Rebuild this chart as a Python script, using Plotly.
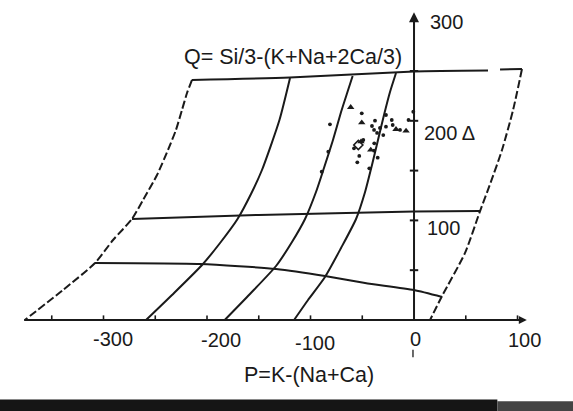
import plotly.graph_objects as go

# ---------------- data (P, Q coordinates) ----------------
# frame / grid lines of the P-Q diagram
top_P = [-214.5, -120.0, 0.0, 71.5]
top_Q = [241.0, 243.5, 249.5, 250.5]
top_end_P = [83.1, 104.3]
top_end_Q = [251.5, 252.0]

left_P = [-214.5, -219.3, -224.2, -230.0, -237.7, -248.3, -261.8, -272.5, -290.8, -308.2, -339.1, -376.0]
left_Q = [241.0, 227.9, 210.8, 190.8, 170.7, 145.6, 120.5, 101.4, 80.3, 57.2, 30.1, 0.0]

right_P = [104.3, 95.7, 85.0, 73.9, 63.8, 49.3, 27.1, 15.5]
right_Q = [252.0, 210.8, 170.7, 137.6, 109.4, 67.3, 24.1, 0.0]

mid_P = [-272.5, -150.0, 0.0, 63.8]
mid_Q = [101.4, 105.5, 108.8, 109.4]

low_P = [-308.2, -206.8, -133.3, -86.0, -47.3, 0.0, 27.1]
low_Q = [57.2, 56.2, 51.2, 44.2, 37.1, 30.1, 23.1]

c1_P = [-258.9, -233.8, -204.8, -187.4, -170.5, -157.5, -146.9, -130.0, -119.8]
c1_Q = [0.0, 25.1, 55.2, 77.3, 101.4, 126.5, 150.6, 200.8, 243.0]

c2_P = [-182.9, -158.5, -133.3, -117.9, -105.3, -94.7, -87.0, -78.3, -70.5, -64.3, -59.3]
c2_Q = [0.0, 26.1, 54.2, 78.3, 101.4, 128.5, 152.6, 180.7, 208.8, 228.9, 245.0]

c3_P = [-115.9, -102.4, -86.0, -70.5, -56.0, -47.3, -40.6, -34.8, -29.0, -23.2, -17.4]
c3_Q = [0.0, 20.1, 43.2, 72.3, 101.4, 128.5, 155.6, 180.7, 205.8, 228.9, 248.0]

# samples
dots_P = [-81.2, -50.5, -37.7, -27.1, -40.6, -32.9, -35.7, -38.6, -21.5, -20.6, -13.5, -5.3,
          -0.7, -27.1, -29.7, -38.4, -58.0, -49.0, -82.8, -38.6, -52.9, -54.8, -43.2, -35.1, -89.2]
dots_Q = [196.5, 207.5, 200.1, 205.8, 194.8, 192.8, 187.8, 190.8, 200.8, 195.8, 190.8, 200.8,
          209.1, 194.1, 185.7, 177.4, 172.4, 180.7, 169.0, 170.0, 164.7, 158.3, 152.3, 163.0, 148.9]
tri_P = [-61.2, -50.5, -17.4, -7.7, -51.2, -41.8]
tri_Q = [213.6, 198.1, 191.5, 189.8, 179.0, 170.7]
open_P = [-53.8]
open_Q = [175.7]

# axes
x_ticks = [-350, -300, -250, -200, -150, -100, -50, 50, 100]
y_ticks = [50, 100, 150, 200, 250]
x_lab_text = ["-300", "-200", "-100", "0", "100"]
x_lab_P = [-290.8, -186.9, -95.8, 1.0, 106.3]
x_lab_Q = [-18.6, -20.1, -23.1, -18.6, -20.1]
y_lab_text = ["300", "200 Δ", "100"]
y_lab_P = [13.5, 7.7, 10.6]
y_lab_Q = [299.2, 187.8, 92.4]

INK = "#1a1a1a"
FONT = "Liberation Sans, Arial, Helvetica, sans-serif"
LW = 2.0

fig = go.Figure()

def line(P, Q, dash="solid", width=LW):
    fig.add_trace(go.Scatter(x=P, y=Q, mode="lines",
                             line=dict(color=INK, width=width, dash=dash, shape="spline", smoothing=0.6),
                             hoverinfo="skip"))

line(top_P, top_Q)
line(top_end_P, top_end_Q)
line(left_P, left_Q, dash="8px,3px")
line(right_P, right_Q, dash="8px,3px")
line(mid_P, mid_Q)
line(low_P, low_Q)
line(c1_P, c1_Q)
line(c2_P, c2_Q)
line(c3_P, c3_Q)

# axes lines
fig.add_trace(go.Scatter(x=[-376.7, 106], y=[0, 0], mode="lines", line=dict(color=INK, width=LW), hoverinfo="skip"))
fig.add_trace(go.Scatter(x=[0, 0], y=[0, 306], mode="lines", line=dict(color=INK, width=LW), hoverinfo="skip"))
fig.add_trace(go.Scatter(x=[-1, -1], y=[-30, -37.5], mode="lines", line=dict(color=INK, width=1.3), hoverinfo="skip"))
fig.add_annotation(x=0, y=309, ax=0, ay=290, xref="x", yref="y", axref="x", ayref="y", text="",
                   showarrow=True, arrowhead=2, arrowsize=1, arrowwidth=LW, arrowcolor=INK)
fig.add_annotation(x=109, y=0, ax=95, ay=0, xref="x", yref="y", axref="x", ayref="y", text="",
                   showarrow=True, arrowhead=2, arrowsize=0.8, arrowwidth=LW, arrowcolor=INK)

# ticks
fig.add_trace(go.Scatter(x=x_ticks, y=[1.8] * len(x_ticks), mode="markers",
                         marker=dict(symbol="line-ns", size=4, line=dict(color=INK, width=1.6)), hoverinfo="skip"))
fig.add_trace(go.Scatter(x=[0] * len(y_ticks), y=y_ticks, mode="markers",
                         marker=dict(symbol="line-ew", size=6, line=dict(color=INK, width=2)), hoverinfo="skip"))

# samples
fig.add_trace(go.Scatter(x=dots_P, y=dots_Q, mode="markers", marker=dict(symbol="circle", size=3.8, color=INK), hoverinfo="skip"))
fig.add_trace(go.Scatter(x=tri_P, y=tri_Q, mode="markers", marker=dict(symbol="triangle-up", size=6.5, color=INK), hoverinfo="skip"))
fig.add_trace(go.Scatter(x=open_P, y=open_Q, mode="markers",
                         marker=dict(symbol="diamond-open", size=7, color=INK, line=dict(width=1.6)), hoverinfo="skip"))

# labels
for t, p, q in zip(x_lab_text, x_lab_P, x_lab_Q):
    fig.add_annotation(x=p, y=q, text=t, showarrow=False, xanchor="center", yanchor="middle",
                       font=dict(family=FONT, size=20, color=INK))
for t, p, q in zip(y_lab_text, y_lab_P, y_lab_Q):
    fig.add_annotation(x=p, y=q, text=t, showarrow=False, xanchor="left", yanchor="middle",
                       font=dict(family=FONT, size=20, color=INK))
fig.add_annotation(x=-116.9, y=264.1, text="Q= Si/3-(K+Na+2Ca/3)", showarrow=False,
                   xanchor="center", yanchor="middle", font=dict(family=FONT, size=21.5, color=INK))
fig.add_annotation(x=-101.4, y=-55.2, text="P=K-(Na+Ca)", showarrow=False,
                   xanchor="center", yanchor="middle", font=dict(family=FONT, size=21.5, color=INK))

# scan edge bar at the bottom
fig.add_shape(type="rect", xref="paper", yref="paper", x0=0, x1=0.868, y0=0, y1=0.028,
              fillcolor="#151515", line=dict(width=0), layer="above")
fig.add_shape(type="rect", xref="paper", yref="paper", x0=0.868, x1=1, y0=0, y1=0.024,
              fillcolor="#444444", line=dict(width=0), layer="above")

fig.update_layout(
    width=573, height=411,
    margin=dict(l=0, r=0, t=0, b=0),
    paper_bgcolor="white", plot_bgcolor="white",
    showlegend=False,
    xaxis=dict(visible=False, range=[-400, 153.6], fixedrange=True),
    yaxis=dict(visible=False, range=[-91.4, 321.3], fixedrange=True),
)

fig.write_html("out.html")
